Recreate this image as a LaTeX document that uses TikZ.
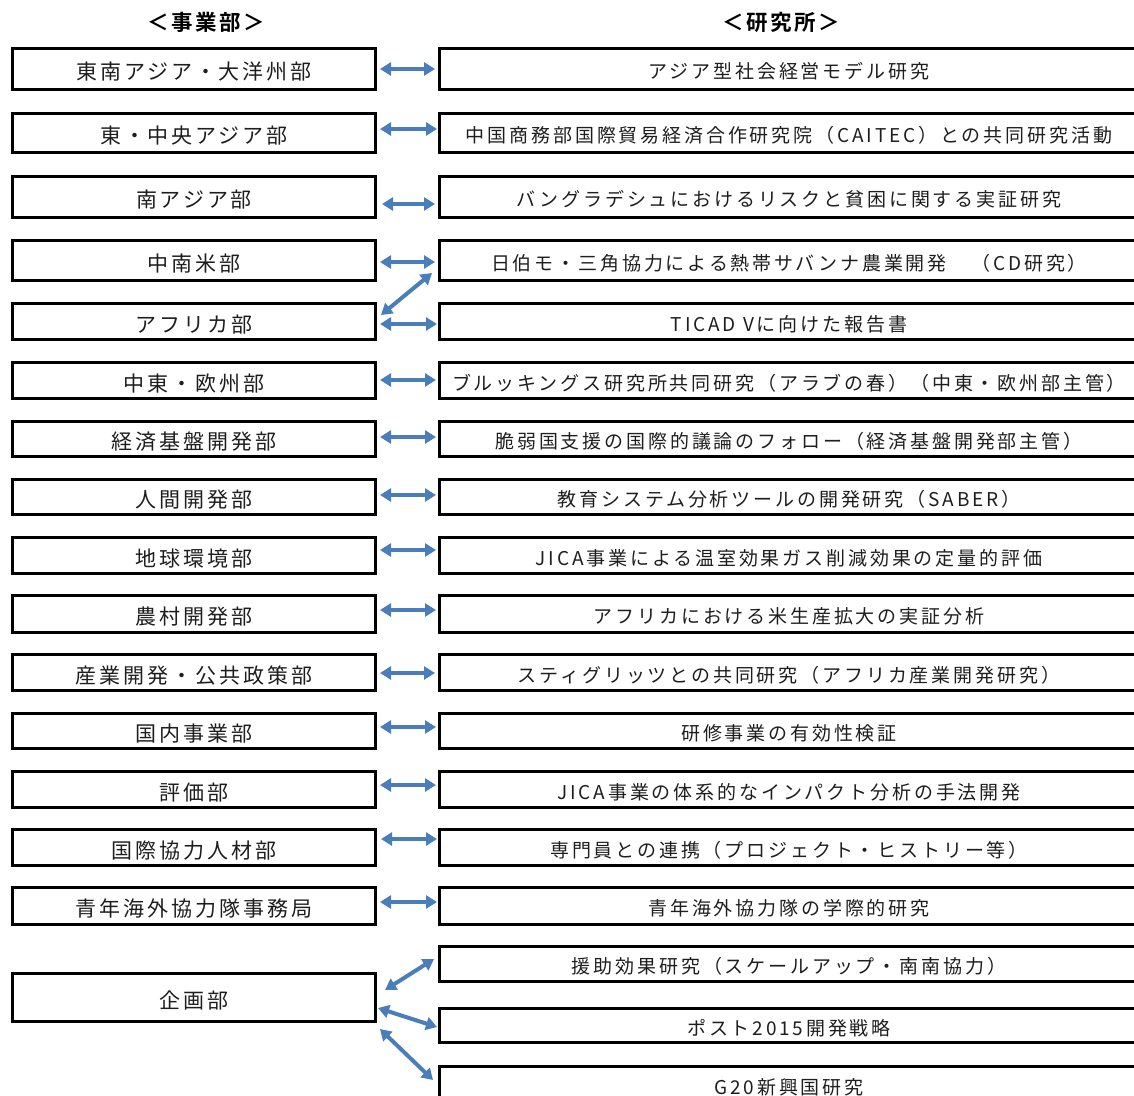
\documentclass[tikz,border=0pt]{standalone}
\usepackage{fontspec}
\usetikzlibrary{arrows.meta}
\newfontfamily\jpL[LetterSpace=14]{Noto Sans CJK JP}
\newfontfamily\jpR[LetterSpace=15]{Noto Sans CJK JP}
\newfontfamily\jpH[LetterSpace=12]{Noto Sans CJK JP Bold}
\definecolor{arrowblue}{RGB}{74,126,187}
\definecolor{ink}{RGB}{30,30,30}
\begin{document}
\begin{tikzpicture}[x=1pt,y=-1pt,
 lbox/.style={draw=black,line width=3pt,minimum width=363pt,inner sep=0pt,text height=21pt,text depth=0pt,font=\jpL\fontsize{21}{24}\selectfont,text=ink},
 rbox/.style={draw=black,line width=3pt,minimum width=699pt,inner sep=0pt,text height=19.4pt,text depth=0pt,font=\jpR\fontsize{19}{22}\selectfont,text=ink},
 head/.style={inner sep=0pt,font=\jpH\fontsize{21.5}{24}\selectfont,text=black},
 biarrow/.style={draw=arrowblue,line width=4pt,{Triangle[length=11pt,width=13pt]}-{Triangle[length=11pt,width=13pt]}}
]
\useasboundingbox (0,0) rectangle (1134,1095);
\clip (0,0) rectangle (1134,1095);

\node[head] (H1) at (206,22) {＜事業部＞};
\node[head] (H2) at (781,22) {＜研究所＞};

% left boxes
\node[lbox,minimum height=41pt] (L1) at (194,69) {東南アジア・大洋州部};
\node[lbox,minimum height=39pt] (L2) at (194,133) {東・中央アジア部};
\node[lbox,minimum height=41pt] (L3) at (194,197) {南アジア部};
\node[lbox,minimum height=40pt] (L4) at (194,260.5) {中南米部};
\node[lbox,minimum height=36pt] (L5) at (194,321.5) {アフリカ部};
\node[lbox,minimum height=36pt] (L6) at (194,380.5) {中東・欧州部};
\node[lbox,minimum height=35pt] (L7) at (194,439) {経済基盤開発部};
\node[lbox,minimum height=35pt] (L8) at (194,497) {人間開発部};
\node[lbox,minimum height=36pt] (L9) at (194,555.5) {地球環境部};
\node[lbox,minimum height=37pt] (L10) at (194,614) {農村開発部};
\node[lbox,minimum height=36pt] (L11) at (194,672.5) {産業開発・公共政策部};
\node[lbox,minimum height=35pt] (L12) at (194,731) {国内事業部};
\node[lbox,minimum height=36pt] (L13) at (194,789.5) {評価部};
\node[lbox,minimum height=36pt] (L14) at (194,847.5) {国際協力人材部};
\node[lbox,minimum height=37pt] (L15) at (194,906) {青年海外協力隊事務局};
\node[lbox,minimum height=48pt] (L16) at (194,997.5) {企画部};

% right boxes
\node[rbox,minimum height=41pt] (R1) at (789,69) {アジア型社会経営モデル研究};
\node[rbox,minimum height=39pt] (R2) at (789,133) {中国商務部国際貿易経済合作研究院（CAITEC）との共同研究活動};
\node[rbox,minimum height=41pt] (R3) at (789,197) {バングラデシュにおけるリスクと貧困に関する実証研究};
\node[rbox,minimum height=40pt] (R4) at (789,260.5) {日伯モ・三角協力による熱帯サバンナ農業開発　（CD研究）};
\node[rbox,minimum height=36pt] (R5) at (789,321.5) {TICAD Vに向けた報告書};
\node[rbox,minimum height=36pt] (R6) at (789,380.5) {ブルッキングス研究所共同研究（アラブの春）（中東・欧州部主管）};
\node[rbox,minimum height=35pt] (R7) at (789,439) {脆弱国支援の国際的議論のフォロー（経済基盤開発部主管）};
\node[rbox,minimum height=35pt] (R8) at (789,497) {教育システム分析ツールの開発研究（SABER）};
\node[rbox,minimum height=36pt] (R9) at (789,555.5) {JICA事業による温室効果ガス削減効果の定量的評価};
\node[rbox,minimum height=37pt] (R10) at (789,614) {アフリカにおける米生産拡大の実証分析};
\node[rbox,minimum height=36pt] (R11) at (789,672.5) {スティグリッツとの共同研究（アフリカ産業開発研究）};
\node[rbox,minimum height=35pt] (R12) at (789,731) {研修事業の有効性検証};
\node[rbox,minimum height=36pt] (R13) at (789,789.5) {JICA事業の体系的なインパクト分析の手法開発};
\node[rbox,minimum height=36pt] (R14) at (789,847.5) {専門員との連携（プロジェクト・ヒストリー等）};
\node[rbox,minimum height=37pt] (R15) at (789,906) {青年海外協力隊の学際的研究};
\node[rbox,minimum height=35pt] (R16) at (789,964) {援助効果研究（スケールアップ・南南協力）};
\node[rbox,minimum height=34pt] (R17) at (789,1025.5) {ポスト2015開発戦略};
\node[rbox,minimum height=37pt] (R18) at (789,1085) {G20新興国研究};

% arrows
\draw[biarrow] ([xshift=3pt]L1.east) -- ([xshift=-3pt]R1.west);
\draw[biarrow] ([xshift=3pt,yshift=4pt]L2.east) -- ([xshift=-1pt,yshift=4pt]R2.west);
\draw[biarrow] ([xshift=5pt,yshift=-7pt]L3.east) -- ([xshift=-3pt,yshift=-7pt]R3.west);
\draw[biarrow] ([xshift=3pt,yshift=-1.5pt]L4.east) -- ([xshift=-3pt,yshift=-1.5pt]R4.west);
\draw[biarrow] ([xshift=4pt,yshift=6.5pt]L5.east) -- ([xshift=-6pt,yshift=-12.5pt]R4.west);
\draw[biarrow] ([xshift=3pt,yshift=-2.5pt]L5.east) -- ([xshift=-1pt,yshift=-2.5pt]R5.west);
\draw[biarrow] ([xshift=3pt,yshift=0.5pt]L6.east) -- ([xshift=-2pt,yshift=0.5pt]R6.west);
\draw[biarrow] ([xshift=3pt,yshift=2pt]L7.east) -- ([xshift=-2pt,yshift=2pt]R7.west);
\draw[biarrow] ([xshift=3pt,yshift=2pt]L8.east) -- ([xshift=-2pt,yshift=2pt]R8.west);
\draw[biarrow] ([xshift=3pt,yshift=5.5pt]L9.east) -- ([xshift=-2pt,yshift=5.5pt]R9.west);
\draw[biarrow] ([xshift=3pt,yshift=4pt]L10.east) -- ([xshift=-2pt,yshift=4pt]R10.west);
\draw[biarrow] ([xshift=3pt,yshift=-0.5pt]L11.east) -- ([xshift=-3pt,yshift=-0.5pt]R11.west);
\draw[biarrow] ([xshift=3pt,yshift=4pt]L12.east) -- ([xshift=-2pt,yshift=4pt]R12.west);
\draw[biarrow] ([xshift=3pt,yshift=4.5pt]L13.east) -- ([xshift=-2pt,yshift=4.5pt]R13.west);
\draw[biarrow] ([xshift=4pt,yshift=8.5pt]L14.east) -- ([xshift=-1pt,yshift=8.5pt]R14.west);
\draw[biarrow] ([xshift=3pt,yshift=4pt]L15.east) -- ([xshift=-1pt,yshift=4pt]R15.west);
\draw[biarrow] ([xshift=8pt,yshift=7.5pt]L16.east) -- ([xshift=-4pt,yshift=5pt]R16.west);
\draw[biarrow] ([xshift=1pt,yshift=-10.5pt]L16.east) -- ([xshift=-1pt,yshift=-1.5pt]R17.west);
\draw[biarrow] ([xshift=3pt,yshift=-31.5pt]L16.east) -- ([xshift=-5pt,yshift=5pt]R18.west);
\end{tikzpicture}
\end{document}
